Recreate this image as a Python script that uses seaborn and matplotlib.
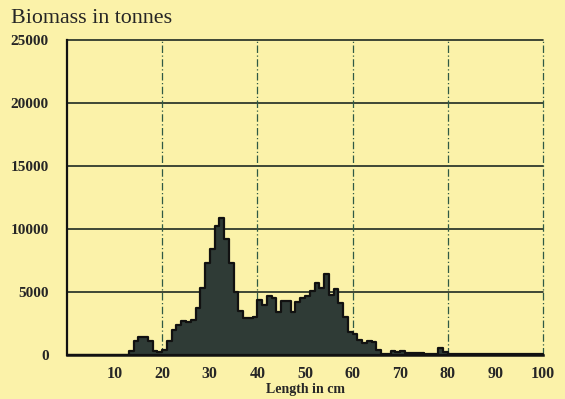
import numpy as np
import pandas as pd
import matplotlib
matplotlib.use("Agg")
import matplotlib.pyplot as plt
import seaborn as sns

# Length classes (cm, lower edge of 1-cm bins) and biomass (tonnes)
length_cm = list(range(0, 100))
biomass = [
    0, 0, 0, 0, 0, 0, 0, 0, 0, 0,            # 0-9
    0, 0, 30, 300, 1100, 1450, 1400, 1100, 300, 200,   # 10-19
    400, 1100, 2000, 2400, 2700, 2600, 2800, 3700, 5300, 7300,  # 20-29
    8400, 10200, 10900, 9200, 7300, 5000, 3500, 2900, 2900, 3000,  # 30-39
    4400, 4000, 4700, 4500, 3400, 4300, 4300, 3400, 4200, 4500,  # 40-49
    4700, 5100, 5700, 5300, 6400, 4800, 5200, 4100, 3000, 1800,  # 50-59
    1700, 1200, 950, 1100, 1000, 430, 100, 100, 290, 200,        # 60-69
    300, 150, 150, 150, 150, 50, 50, 60, 560, 200,               # 70-79
    50, 50, 50, 50, 50, 50, 50, 50, 50, 50,                      # 80-89
    50, 50, 50, 50, 50, 50, 50, 50, 50, 50,                      # 90-99
]
x_ticks = [10, 20, 30, 40, 50, 60, 70, 80, 90, 100]
y_ticks = [0, 5000, 10000, 15000, 20000, 25000]

centers = np.array(length_cm, dtype=float) + 0.5
weights = np.array(biomass, dtype=float)

bg = "#FBF2A9"
sns.set_style("white")
plt.rcParams["font.family"] = ["Liberation Serif", "DejaVu Serif"]

fig = plt.figure(figsize=(5.65, 3.99), dpi=100, facecolor=bg)
# axes: left 67px, right 543px, top 40px, bottom 355px
ax = fig.add_axes([67 / 565, 1 - 355 / 399, 476 / 565, 315 / 399])
ax.set_facecolor(bg)

sns.histplot(x=centers, weights=weights, bins=100, binrange=(0, 100),
             element="step", fill=True, color="#2F3B36", alpha=1.0,
             edgecolor="#111111", linewidth=1.6, ax=ax)

ax.set_xlim(0, 100)
ax.set_ylim(0, 25000)

# grid
for yv in y_ticks[1:]:
    ax.axhline(yv, color="#1e2a22", lw=1.2, zorder=0, clip_on=False)
for xv in [20, 40, 60, 80, 100]:
    ax.axvline(xv, color="#2f5a45", lw=0.9, ls=(0, (6, 2, 1, 2)), zorder=0,
               clip_on=False)

for s in ["top", "right"]:
    ax.spines[s].set_visible(False)
ax.spines["left"].set_color("#111111")
ax.spines["left"].set_linewidth(1.6)
ax.spines["bottom"].set_color("#111111")
ax.spines["bottom"].set_linewidth(1.8)

ax.set_yticks(y_ticks)
ax.set_yticklabels([str(v) for v in y_ticks], fontsize=11, fontweight="bold")
ax.set_xticks(x_ticks)
ax.set_xticklabels([str(v) for v in x_ticks], fontsize=11.5, fontweight="bold")
ax.set_xticks(np.arange(1, 100, 1), minor=True)
ax.tick_params(axis="y", direction="out", length=9, width=1.2, color="#111111", pad=4)
ax.tick_params(axis="x", which="major", direction="out", length=5, width=1.0,
               color="#333333", pad=3)
ax.tick_params(axis="x", which="minor", direction="out", length=4, width=0.8,
               color="#444444")

ax.set_ylabel("")
ax.set_xlabel("Length in cm", fontsize=10, fontweight="bold")
ax.xaxis.set_label_coords(0.5, -0.088)

fig.text(0.02, 0.953, "Biomass in tonnes", fontsize=15.8, ha="left", va="center")

fig.savefig("out.png", dpi=100, facecolor=bg)
